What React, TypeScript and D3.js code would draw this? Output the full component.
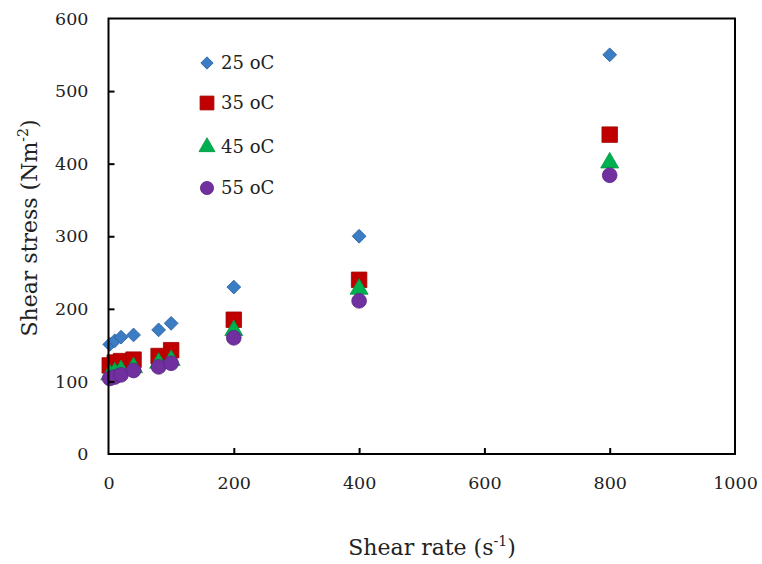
import React, { useEffect, useRef } from "react";
import * as d3 from "d3";

// shear rate values (s-1)
const shearRate = [2, 10, 20, 40, 80, 100, 200, 400, 800];
const stress25 = [151, 156, 161, 164, 171, 180, 230, 300, 550];
const stress35 = [122, 126, 128, 130, 135, 143, 185, 240, 440];
const stress45 = [112, 115, 118, 122, 128, 132, 173, 230, 404];
const stress55 = [104, 106, 109, 115, 120, 125, 160, 211, 384];
const seriesNames = ["25 oC", "35 oC", "45 oC", "55 oC"];
const xTicks = [0, 200, 400, 600, 800, 1000];
const yTicks = [0, 100, 200, 300, 400, 500, 600];

const width = 762;
const height = 564;
const margin = { top: 18.5, left: 108.5, bottom: 110, right: 27 };
const iwidth = width - margin.left - margin.right;
const iheight = height - margin.top - margin.bottom;

const colors = ["#3B7DC4", "#C00000", "#00B050", "#7030A0"];
const strokes = ["#2A5F9E", "#A00000", "#00963F", "#5A2585"];
const shapes = [d3.symbolSquare, d3.symbolSquare, d3.symbolTriangle, d3.symbolCircle];
const sizes = [95, 240, 140, 170];
const rotation = [45, 0, 0, 0];
const font = "DejaVu Serif";

export default function App() {
  const ref = useRef<SVGSVGElement>(null);

  useEffect(() => {
    const svg = d3.select(ref.current);
    svg.selectAll("*").remove();

    const x = d3.scaleLinear().domain([0, 1000]).range([0, iwidth]);
    const y = d3.scaleLinear().domain([0, 600]).range([iheight, 0]);

    const g = svg
      .append("g")
      .attr("transform", `translate(${margin.left},${margin.top})`);

    const all = [stress25, stress35, stress45, stress55];

    all.forEach((vals, i) => {
      const sym = d3.symbol().type(shapes[i]).size(sizes[i]);
      g.selectAll(`.s${i}`)
        .data(vals)
        .enter()
        .append("path")
        .attr("class", `s${i}`)
        .attr("d", sym)
        .attr("transform", (d, j) => {
          const dy = i === 2 ? 2 : 0;
          return `translate(${x(shearRate[j])},${y(d) + dy}) rotate(${rotation[i]})`;
        })
        .attr("fill", colors[i])
        .attr("stroke", strokes[i])
        .attr("stroke-width", 0.8);
    });

    // box
    g.append("rect")
      .attr("width", iwidth)
      .attr("height", iheight)
      .attr("fill", "none")
      .attr("stroke", "#000")
      .attr("stroke-width", 2);

    const xa = g
      .append("g")
      .attr("transform", `translate(0,${iheight})`)
      .call(
        d3.axisBottom(x).tickValues(xTicks).tickFormat(d3.format("d")).tickSize(-6).tickPadding(23)
      );
    const ya = g
      .append("g")
      .call(d3.axisLeft(y).tickValues(yTicks).tickSize(-6).tickPadding(20));

    [xa, ya].forEach((a) => {
      a.select(".domain").remove();
      a.selectAll("line").attr("stroke", "#000").attr("stroke-width", 2);
      a.selectAll("text")
        .attr("font-family", font)
        .attr("font-size", 17.5)
        .attr("fill", "#222");
    });
    xa.selectAll("line").filter((d) => d === 0 || d === 1000).remove();
    ya.selectAll("line").filter((d) => d === 0 || d === 600).remove();

    const xt = svg
      .append("text")
      .attr("x", 432)
      .attr("y", 555)
      .attr("text-anchor", "middle")
      .attr("font-family", font)
      .attr("font-size", 22)
      .attr("fill", "#222");
    xt.append("tspan").text("Shear rate (s");
    xt.append("tspan").attr("font-size", 14).attr("dy", -9).text("-1");
    xt.append("tspan").attr("dy", 9).text(")");

    const yt = svg
      .append("text")
      .attr("transform", "translate(37,228) rotate(-90)")
      .attr("text-anchor", "middle")
      .attr("font-family", font)
      .attr("font-size", 22)
      .attr("fill", "#222");
    yt.append("tspan").text("Shear stress (Nm");
    yt.append("tspan").attr("font-size", 14).attr("dy", -9).text("-2");
    yt.append("tspan").attr("dy", 9).text(")");

    // legend
    const legendY = [63, 103, 147, 188];
    seriesNames.forEach((name, i) => {
      const sym = d3.symbol().type(shapes[i]).size(sizes[i] * 0.8);
      svg
        .append("path")
        .attr("d", sym)
        .attr("transform", `translate(207,${legendY[i]}) rotate(${rotation[i]})`)
        .attr("fill", colors[i])
        .attr("stroke", strokes[i])
        .attr("stroke-width", 0.8);
      svg
        .append("text")
        .attr("x", 221)
        .attr("y", legendY[i])
        .attr("dy", "0.35em")
        .attr("font-family", font)
        .attr("font-size", 18)
        .attr("fill", "#222")
        .text(name);
    });
  }, []);

  return (
    <svg
      ref={ref}
      width={width}
      height={height}
      style={{ position: "absolute", left: 0, top: 0, background: "#fff" }}
    />
  );
}
